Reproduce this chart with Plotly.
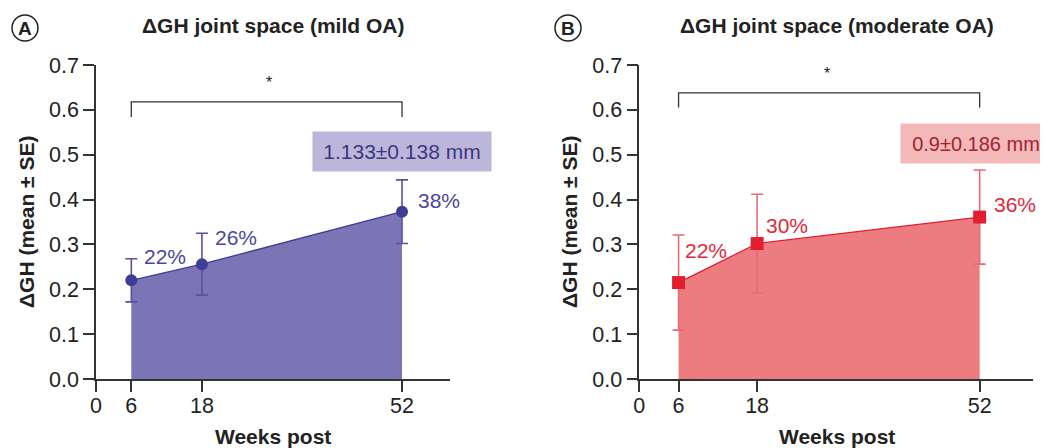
import plotly.graph_objects as go

# ---- data ----
weeks = [6, 18, 52]
mild_mean = [0.220, 0.256, 0.373]
mild_se = [0.048, 0.069, 0.071]
mild_pct = ["22%", "26%", "38%"]
mod_mean = [0.215, 0.302, 0.361]
mod_se = [0.106, 0.110, 0.105]
mod_pct = ["22%", "30%", "36%"]
x_ticks = [0, 6, 18, 52]
y_ticks = [0.0, 0.1, 0.2, 0.3, 0.4, 0.5, 0.6, 0.7]
mild_total = "1.133±0.138 mm"
mod_total = "0.9±0.186 mm"
titles = ["ΔGH joint space (mild OA)", "ΔGH joint space (moderate OA)"]
panel_letters = ["A", "B"]

# page body has an 8px default margin: figure is drawn 8px in from the corner
OFF = 8
W, H = 1048 - OFF, 448 - OFF
FONT = "Liberation Sans, Arial, Helvetica, sans-serif"


def px(xp):
    return (xp - OFF) / W


def py(yp):
    return 1 - (yp - OFF) / H


fig = go.Figure()

panels = [
    dict(mean=mild_mean, se=mild_se, pct=mild_pct, total=mild_total,
         fill="#7b74b5", line="#3f3e97", err="#5653a6", text="#4a479e",
         boxbg="#bdb6da", boxtext="#3a3980", symbol="circle", msize=12,
         xdom=[px(96), px(450)], xa="x", ya="y",
         lab_off=[(1.9, 0.052), (1.9, 0.060), (2.4, 0.026)],
         box=(0.507, 178, 21, 0), star=(29.4, 0.661), bracket=(0.618, 0.584)),
    dict(mean=mod_mean, se=mod_se, pct=mod_pct, total=mod_total,
         fill="#ec7c80", line="#e11f30", err="#e86a74", text="#e3273a",
         boxbg="#f3b9b9", boxtext="#a3222f", symbol="square", msize=13,
         xdom=[px(639.3), px(1033)], xa="x2", ya="y2",
         lab_off=[(0.6, 0.072), (1.0, 0.041), (1.95, 0.029)],
         box=(0.526, 150, 20, -4), star=(28.6, 0.682), bracket=(0.638, 0.605)),
]

ydom = [py(379), py(65)]

for i, p in enumerate(panels):
    fig.add_trace(go.Scatter(
        x=weeks, y=p["mean"], mode="lines+markers", fill="tozeroy",
        fillcolor=p["fill"], line=dict(color=p["line"], width=1.3),
        marker=dict(symbol=p["symbol"], size=p["msize"], color=p["line"]),
        error_y=dict(type="data", array=p["se"], visible=True,
                     color=p["err"], thickness=1.6, width=6),
        xaxis=p["xa"], yaxis=p["ya"], cliponaxis=False, showlegend=False,
        hoverinfo="skip"))
    sfx = "" if i == 0 else "2"
    fig.update_layout(**{
        "xaxis" + sfx: dict(domain=p["xdom"], range=[0, 60.15], tickvals=x_ticks,
                            ticks="outside", ticklen=11, tickwidth=1.5,
                            tickcolor="#333", showline=True, linecolor="#333",
                            linewidth=1.5, showgrid=False, zeroline=False,
                            anchor="y" + sfx, automargin=False,
                            ticklabelstandoff=-5,
                            tickfont=dict(family=FONT, size=21.5, color="#222")),
        "yaxis" + sfx: dict(domain=ydom, range=[0, 0.7], tickvals=y_ticks,
                            tickformat=".1f", ticks="outside", ticklen=11,
                            tickwidth=1.5, tickcolor="#333", showline=True,
                            linecolor="#333", linewidth=1.5, showgrid=False,
                            zeroline=False, anchor="x" + sfx, automargin=False,
                            tickfont=dict(family=FONT, size=21.5, color="#222")),
    })
    # percentage labels
    for xv, yv, t, (dx, dy) in zip(weeks, p["mean"], p["pct"], p["lab_off"]):
        fig.add_annotation(x=xv + dx, y=yv + dy, text=t, showarrow=False,
                           xanchor="left", yanchor="middle", xref=p["xa"], yref=p["ya"],
                           font=dict(family=FONT, size=21, color=p["text"]))
    # total change box
    fig.add_annotation(x=weeks[-1], y=p["box"][0], text=p["total"], showarrow=False,
                       xref=p["xa"], yref=p["ya"], xanchor="center", yanchor="middle",
                       xshift=p["box"][3],
                       width=p["box"][1], height=39, bgcolor=p["boxbg"], borderpad=0,
                       font=dict(family=FONT, size=p["box"][2], color=p["boxtext"]))
    # significance bracket
    top, foot = p["bracket"]
    fig.add_shape(type="path", xref=p["xa"], yref=p["ya"],
                  path=f"M {weeks[0]},{foot} L {weeks[0]},{top} L {weeks[-1]},{top} L {weeks[-1]},{foot}",
                  line=dict(color="#333", width=1.3))
    fig.add_annotation(x=p["star"][0], y=p["star"][1], text="*", showarrow=False,
                       xref=p["xa"], yref=p["ya"], xanchor="center", yanchor="middle",
                       font=dict(family=FONT, size=16, color="#222"))

# titles, axis titles and panel letters (paper coordinates)
title_x = [273, 837]
ytitle_x = [26, 569]
letter_x = [25, 568]
for i in range(2):
    fig.add_annotation(x=px(title_x[i]), y=py(26), xref="paper", yref="paper",
                       xanchor="center", yanchor="middle",
                       text=f"<b>{titles[i]}</b>", showarrow=False,
                       font=dict(family=FONT, size=21, color="#222"))
    fig.add_annotation(x=px(title_x[i]), y=py(436), xref="paper", yref="paper",
                       xanchor="center", yanchor="middle",
                       text="<b>Weeks post</b>", showarrow=False,
                       font=dict(family=FONT, size=21, color="#222"))
    fig.add_annotation(x=px(ytitle_x[i]), y=py(222), xref="paper", yref="paper",
                       xanchor="center", yanchor="middle",
                       text="<b>ΔGH (mean ± SE)</b>", showarrow=False, textangle=-90,
                       font=dict(family=FONT, size=21, color="#222"))
    fig.add_shape(type="circle", xref="paper", yref="paper",
                  x0=px(letter_x[i] - 13), x1=px(letter_x[i] + 13),
                  y0=py(41), y1=py(15), line=dict(color="#222", width=1.5))
    fig.add_annotation(x=px(letter_x[i]), y=py(28.5), xref="paper", yref="paper",
                       xanchor="center", yanchor="middle",
                       text=f"<b>{panel_letters[i]}</b>", showarrow=False,
                       font=dict(family=FONT, size=19, color="#222"))

fig.update_layout(template="none", width=W, height=H,
                  margin=dict(l=0, r=0, t=0, b=0, autoexpand=False),
                  paper_bgcolor="white", plot_bgcolor="white")

fig.write_html("out.html")
